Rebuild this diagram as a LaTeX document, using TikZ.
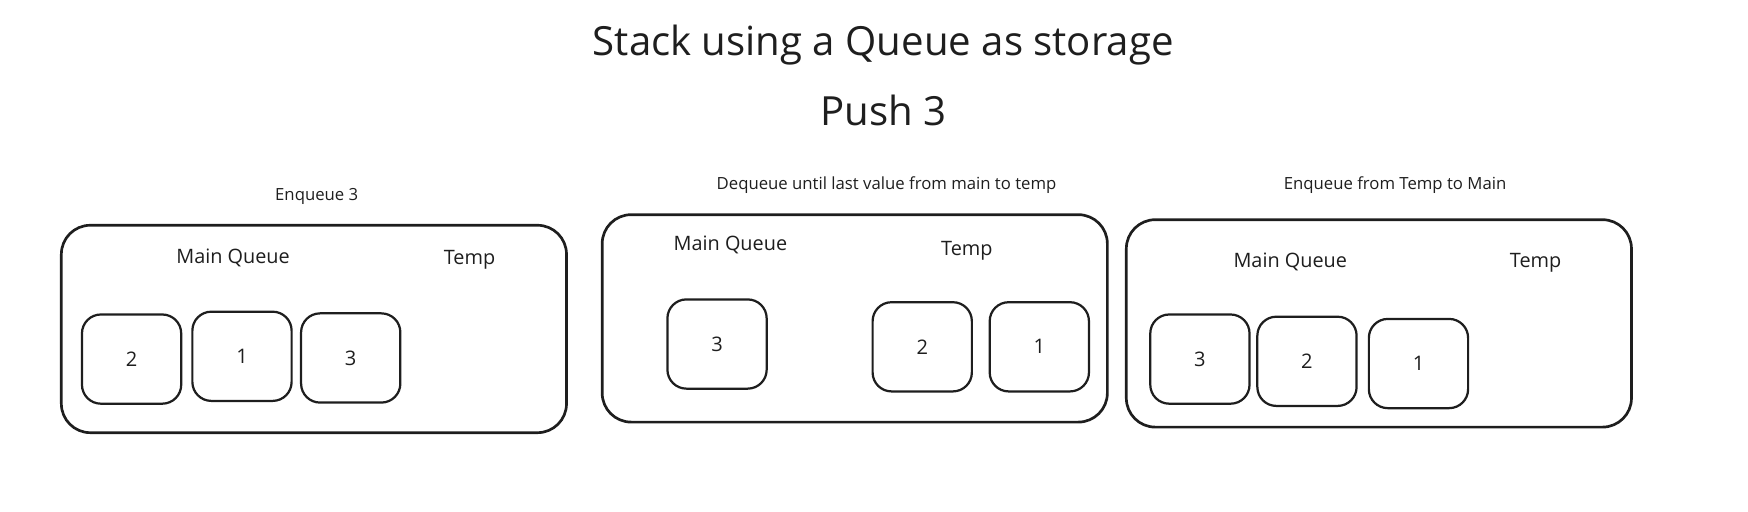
\documentclass[tikz,border=0pt]{standalone}
\usepackage{fontspec}
\setmainfont{Open Sans}
\definecolor{ink}{HTML}{1E1E1E}
\begin{document}
\begin{tikzpicture}[x=1pt,y=-1pt,
  panel/.style={draw=ink, line width=2.4pt, rounded corners=26pt, minimum width=453pt, minimum height=186pt, inner sep=0pt},
  cell/.style={draw=ink, line width=2pt, rounded corners=17pt, minimum width=89pt, minimum height=80pt, inner sep=0pt, font=\fontsize{18}{20}\selectfont, text=ink},
  title/.style={font=\fontsize{36}{40}\selectfont, text=ink, inner sep=0pt},
  caption/.style={font=\fontsize{15}{17}\selectfont, text=ink, inner sep=0pt},
  qlabel/.style={font=\fontsize{17.8}{22}\selectfont, text=ink, inner sep=0pt, text height=14pt, text depth=4pt}
]
\useasboundingbox (0,0) rectangle (1567.5,458.3);
\node[title] (t1) at (792,40) {Stack using a Queue as storage};
\node[title] (t2) at (792,99) {Push 3};

% panel 1
\node[caption] (c1) at (284,176) {Enqueue 3};
\node[panel] (p1) at (281.5,295) {};
\node[qlabel] (m1) at (209,231) {Main Queue};
\node[qlabel] (tp1) at (421,232) {Temp};
\node[cell] (a1) at (118,322) {2};
\node[cell] (a2) at (217,319.5) {1};
\node[cell] (a3) at (314.5,321) {3};

% panel 2
\node[caption] (c2) at (795,166) {Dequeue until last value from main to temp};
\node[panel] (p2) at (766.5,285.5) {};
\node[qlabel] (m2) at (655,220) {Main Queue};
\node[qlabel] (tp2) at (867,224) {Temp};
\node[cell] (b1) at (643,308.5) {3};
\node[cell] (b2) at (827,311) {2};
\node[cell] (b3) at (932,311) {1};

% panel 3
\node[caption] (c3) at (1251,166) {Enqueue from Temp to Main};
\node[panel] (p3) at (1236.5,290) {};
\node[qlabel] (m3) at (1157,235) {Main Queue};
\node[qlabel] (tp3) at (1377,235) {Temp};
\node[cell] (d1) at (1076,322) {3};
\node[cell] (d2) at (1172,324) {2};
\node[cell] (d3) at (1272,326) {1};
\end{tikzpicture}
\end{document}
